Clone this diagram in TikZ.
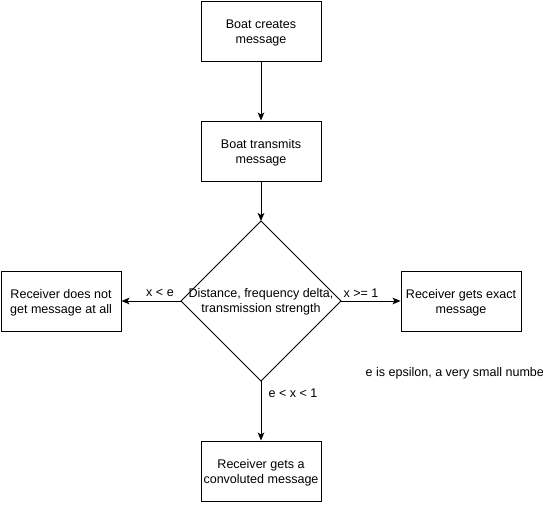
\documentclass[tikz,border=0pt]{standalone}
\usepackage{fontspec}
\setmainfont{Liberation Sans}
\usetikzlibrary{arrows.meta}
\begin{document}
\begin{tikzpicture}[x=0.75pt,y=-0.75pt,
  box/.style={draw,line width=0.75pt,minimum width=90pt,minimum height=45pt,align=center,font=\fontsize{9.4}{11.25}\selectfont,inner sep=0pt},
  lbl/.style={font=\fontsize{9.4}{11.25}\selectfont,inner sep=1pt},
  conn/.style={draw,line width=0.75pt,-{Stealth[length=6pt,width=5pt,inset=1.5pt]}}]
\clip (0,0) rectangle (543,504);
\fill[white] (0,0) rectangle (543,504);
\node[box] (create) at (261,31) {};
\node[lbl,align=center] (createt) at (261,33) {Boat creates\\message};
\node[box] (transmit) at (261,151) {};
\node[lbl,align=center] (transmitt) at (261,153) {Boat transmits\\message};
\coordinate (dt) at (261,221);
\coordinate (dl) at (181,301);
\coordinate (dr) at (341,301);
\coordinate (db) at (261,381);
\draw[line width=0.75pt] (dt) -- (dr) -- (db) -- (dl) -- cycle;
\node[lbl,align=center] (dtext) at (261,302) {Distance, frequency delta,\\transmission strength};
\node[box] (none) at (61,301) {};
\node[lbl,align=center] (nonet) at (61,303) {Receiver does not\\get message at all};
\node[box] (exact) at (461,301) {};
\node[lbl,align=center] (exactt) at (461,303) {Receiver gets exact\\message};
\node[box] (conv) at (261,471) {};
\node[lbl,align=center] (convt) at (261,473) {Receiver gets a\\convoluted message};
\draw[conn] (create) -- (transmit);
\draw[conn] (transmit) -- (dt);
\draw[conn] (dl) -- (none);
\draw[conn] (dr) -- (exact);
\draw[conn] (db) -- (conv);
\node[lbl] (l1) at (160,293) {x < e};
\node[lbl] (l2) at (361,293) {x >= 1};
\node[lbl] (l3) at (293,393) {e < x < 1};
\node[lbl,anchor=west] (note) at (364,373) {e is epsilon, a very small number};
\end{tikzpicture}
\end{document}
